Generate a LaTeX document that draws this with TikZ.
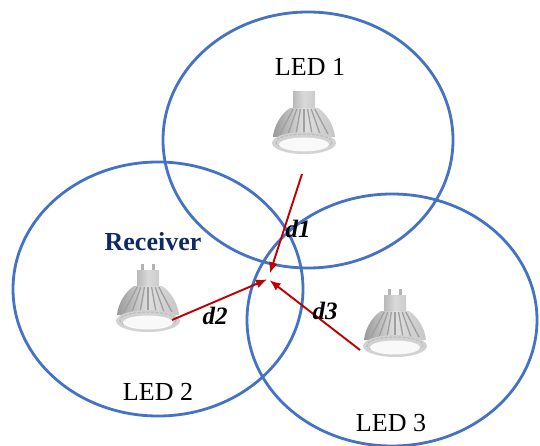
\documentclass[tikz,border=0pt]{standalone}
\usepackage{fontspec}
\setmainfont{Liberation Serif}
\usepackage{tikz}
\usetikzlibrary{arrows.meta}

\definecolor{zoneblue}{HTML}{4472C4}
\definecolor{sigred}{HTML}{C00000}
\definecolor{rxnavy}{HTML}{0E2A66}

% an MR16 lamp, #1 = centre of the lens, #2 = 1 when the pins show
\newcommand{\ledlamp}[2]{%
  \begin{scope}[shift={#1}]
    \ifnum#2=1
      \fill[gray!60] (-7,-57) rectangle (-4,-49);
      \fill[gray!60] (4,-57) rectangle (7,-49);
    \fi
    \shade[left color=gray!55, right color=gray!40, middle color=gray!30] (-11,-51) rectangle (11,-33);
    \shade[left color=gray!80, right color=gray!45, middle color=gray!25]
      (-14,-35) .. controls (-22,-30) and (-30,-18) .. (-31,-6) -- (31,-6)
      .. controls (30,-18) and (22,-30) .. (14,-35) -- cycle;
    \foreach \k in {-3,...,3}
      \draw[gray!75, line width=1.3pt] (\k*3.6,-34) -- (\k*8,-9);
    \fill[gray!35] (0,0) ellipse [x radius=32, y radius=11];
    \draw[gray!55, line width=1pt, dash pattern=on 3pt off 1.5pt] (0,-1) ellipse [x radius=28, y radius=8];
    \fill[white!95!gray] (0,1.5) ellipse [x radius=25, y radius=7];
  \end{scope}}

\begin{document}
\begin{tikzpicture}[
x=1pt, y=-1pt,
zone/.style={draw=zoneblue, line width=2.8pt},
led/.style={font=\fontsize{26}{30}\selectfont, inner sep=0pt},
dist/.style={font=\fontsize{25}{28}\selectfont\bfseries\itshape, inner sep=0pt},
sig/.style={-{Latex[length=11pt,width=9pt]}, draw=sigred, line width=1.9pt}
]
\useasboundingbox (0,0) rectangle (540,446);

% coverage of each lamp
\draw[zone] (308,140) ellipse [x radius=145, y radius=128];
\draw[zone] (158,289) ellipse [x radius=145, y radius=127];
\draw[zone] (392,320) ellipse [x radius=145, y radius=126];

\ledlamp{(304,143)}{0}
\ledlamp{(148,321)}{1}
\ledlamp{(395,346)}{1}

\node[led] (led1) at (310,67) {LED 1};
\node[led] (led2) at (158,392) {LED 2};
\node[led] (led3) at (391,423) {LED 3};
\node[led, font=\fontsize{26}{30}\selectfont\bfseries, text=rxnavy] (rxlabel) at (153,242) {Receiver};

\coordinate (rx) at (268,279);
\coordinate (s1) at (302,174);
\coordinate (s2) at (172,320);
\coordinate (s3) at (360,350);

\draw[sig, shorten >=6pt] (s1) -- (rx);
\draw[sig, shorten >=1pt] (s2) -- (rx);
\draw[sig, shorten >=2pt] (s3) -- (rx);

\node[dist] (d1) at (298,229) {d1};
\node[dist] (d2) at (215,316) {d2};
\node[dist] (d3) at (325,311) {d3};
\end{tikzpicture}
\end{document}
